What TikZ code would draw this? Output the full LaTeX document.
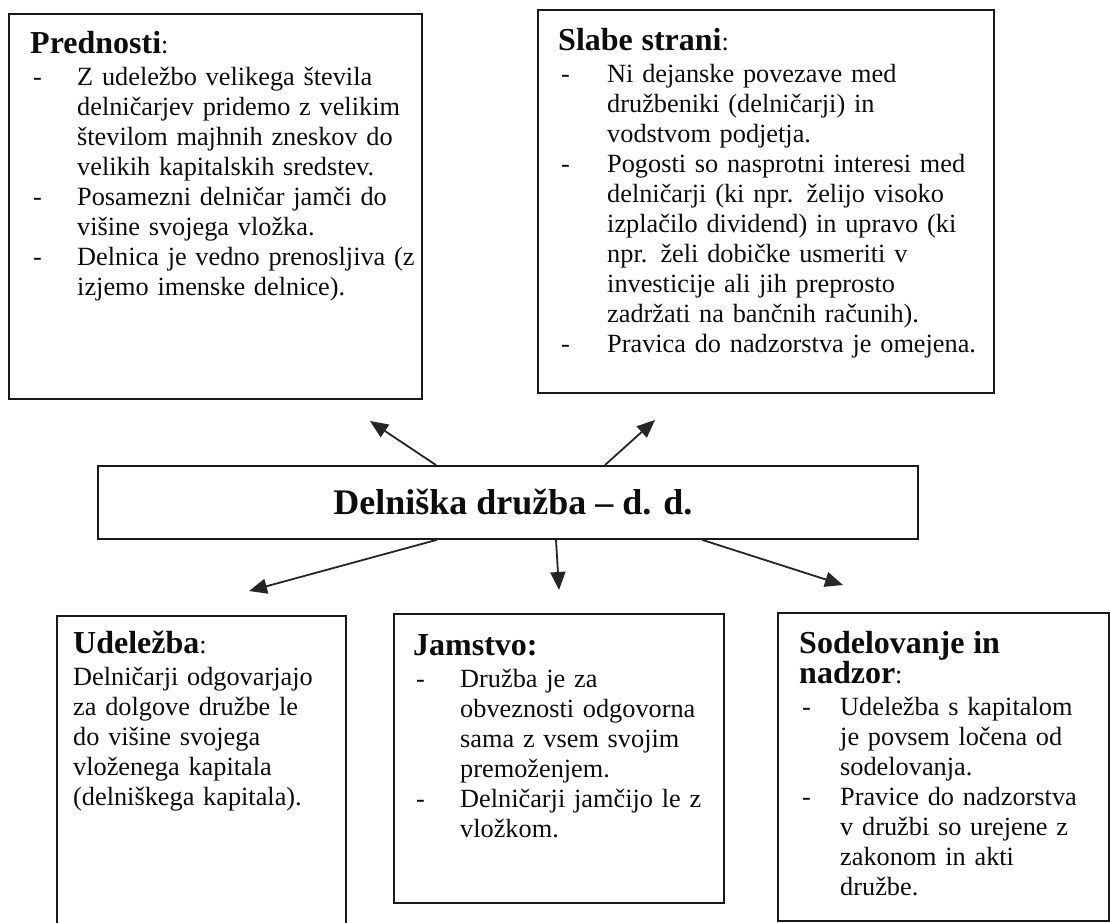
\documentclass[tikz,border=0pt]{standalone}
\usepackage{fontspec}
\setmainfont{Liberation Serif}
\usetikzlibrary{arrows.meta}

\newcommand{\hd}[1]{{\fontsize{32}{30}\selectfont\bfseries #1}}
\newcommand{\nl}{\newline}
\newcommand{\itm}[2][47pt]{\par\noindent\hangindent=#1\hangafter=1\hspace*{3pt}\makebox[\dimexpr#1-3pt\relax][l]{-}#2\par}

\tikzset{
  frame/.style={draw=black!90, line width=1.8pt, anchor=north west, inner sep=0pt},
  txt/.style={anchor=base west, inner sep=0pt, text width=#1, align=left,
    font=\fontsize{26.3}{30}\selectfont, text=black!95},
  arr/.style={line width=1.8pt, draw=black!85, -{Triangle[length=18pt,width=15pt]}},
}

\begin{document}
\begin{tikzpicture}[x=1pt,y=-1pt]
\clip (0,0) rectangle (1110,922);
\fill[white] (0,0) rectangle (1110,922);

% frames
\node[frame, minimum width=413pt, minimum height=385pt] (pbox) at (8,13) {};
\node[frame, minimum width=456pt, minimum height=383pt] (sbox) at (537,9) {};
\node[frame, minimum width=820pt, minimum height=73pt,
      font=\fontsize{36}{40}\selectfont\bfseries, text=black!95] (c) at (97,465) {\hspace*{10pt}Delniška družba – d. d.};
\node[frame, minimum width=289pt, minimum height=340pt] (ubox) at (56,615) {};
\node[frame, minimum width=330pt, minimum height=289pt] (jbox) at (393,613) {};
\node[frame, minimum width=331pt, minimum height=308pt] (dbox) at (777,612) {};

% texts
\node[txt=400pt] (ptxt) at (30,53) {\hd{Prednosti}:\par\vspace{2pt}
  \itm{Z udeležbo velikega števila\nl delničarjev pridemo z velikim\nl številom majhnih zneskov do\nl velikih kapitalskih sredstev.}
  \itm{Posamezni delničar jamči do\nl višine svojega vložka.}
  \itm{Delnica je vedno prenosljiva (z\nl izjemo imenske delnice).}};

\node[txt=440pt] (stxt) at (558,50) {\hd{Slabe strani}:\par\vspace{2pt}
  \itm[49pt]{Ni dejanske povezave med\nl družbeniki (delničarji) in\nl vodstvom podjetja.}
  \itm[49pt]{Pogosti so nasprotni interesi med\nl delničarji (ki npr. želijo visoko\nl izplačilo dividend) in upravo (ki\nl npr. želi dobičke usmeriti v\nl investicije ali jih preprosto\nl zadržati na bančnih računih).}
  \itm[49pt]{Pravica do nadzorstva je omejena.}};

\node[txt=280pt] (utxt) at (73,653) {\hd{Udeležba}:\par\vspace{2pt}
  \noindent Delničarji odgovarjajo\nl za dolgove družbe le\nl do višine svojega\nl vloženega kapitala\nl (delniškega kapitala).};

\node[txt=320pt] (jtxt) at (413,655) {\hd{Jamstvo:}\par\vspace{2pt}
  \itm{Družba je za\nl obveznosti odgovorna\nl sama z vsem svojim\nl premoženjem.}
  \itm{Delničarji jamčijo le z\nl vložkom.}};

\node[txt=320pt] (dtxt) at (799,653) {\hd{Sodelovanje in\nl nadzor}:\par\vspace{2pt}
  \itm[41pt]{Udeležba s kapitalom\nl je povsem ločena od\nl sodelovanja.}
  \itm[41pt]{Pravice do nadzorstva\nl v družbi so urejene z\nl zakonom in akti\nl družbe.}};

% arrow ends
\coordinate (tl) at (370,421);
\coordinate (tr) at (655,420);
\coordinate (bl) at (249,591);
\coordinate (bm) at (559,590);
\coordinate (br) at (843,585);

\draw[arr] ([xshift=339pt]c.north west) -- (tl);
\draw[arr] ([xshift=508pt]c.north west) -- (tr);
\draw[arr] ([xshift=340pt]c.south west) -- (bl);
\draw[arr] ([xshift=459pt]c.south west) -- (bm);
\draw[arr] ([xshift=605pt]c.south west) -- (br);
\end{tikzpicture}
\end{document}
